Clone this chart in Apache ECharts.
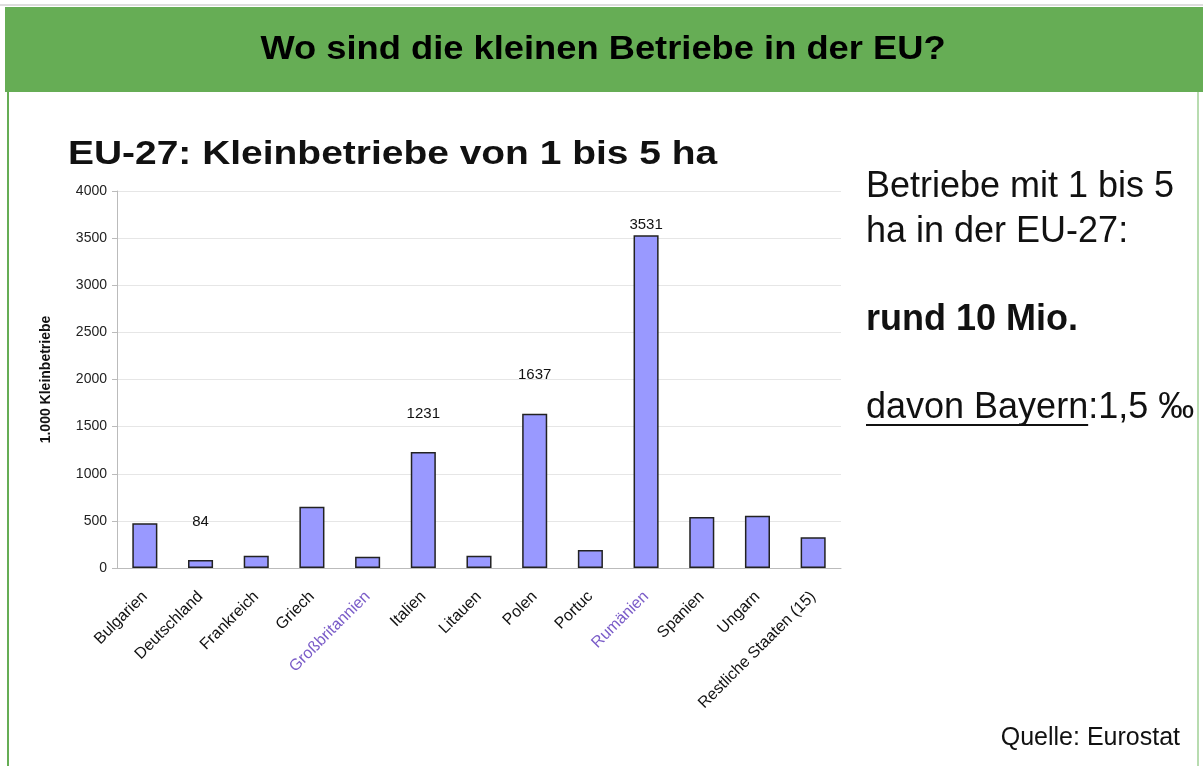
<!DOCTYPE html>
<html>
<head>
<meta charset="utf-8">
<script src="https://cdn.jsdelivr.net/npm/echarts@6/dist/echarts.min.js"></script>
<style>
  html, body { margin: 0; padding: 0; background: #fff; }
  #chart { width: 1203px; height: 766px; }
</style>
</head>
<body>
<div id="chart"></div>
<script>
// Kleinbetriebe 1-5 ha, in 1.000
const countries = ['Bulgarien', 'Deutschland', 'Frankreich', 'Griech', 'Großbritannien', 'Italien',
  'Litauen', 'Polen', 'Portuc', 'Rumänien', 'Spanien', 'Ungarn', 'Restliche Staaten (15)']
const farms = [475, 84, 130, 650, 120, 1231, 130, 1637, 190, 3531, 540, 555, 326]
const labelled = [1, 5, 7, 9] // nur diese Werte stehen im Bild
const yTicks = [0, 500, 1000, 1500, 2000, 2500, 3000, 3500, 4000]

const font = '"Liberation Sans", Arial, sans-serif'
const chart = echarts.init(document.getElementById('chart'))

// Breite von "davon Bayern" fuer die Unterstreichung
const ctx = document.createElement('canvas').getContext('2d')
ctx.font = '36px ' + font
const underlineW = ctx.measureText('davon Bayern').width

chart.setOption({
  animation: false,
  textStyle: { fontFamily: font },
  grid: { left: 117, right: 362, top: 191, bottom: 198 },
  xAxis: {
    type: 'category',
    data: countries,
    axisLine: { lineStyle: { color: '#bbb' } },
    axisTick: { length: 5, lineStyle: { color: '#bbb' } },
    axisLabel: {
      rotate: 45,
      interval: 0,
      fontSize: 16,
      margin: 26,
      color: (v) => (v === 'Großbritannien' || v === 'Rumänien') ? '#7a5cc8' : '#111'
    }
  },
  yAxis: {
    type: 'value',
    min: yTicks[0],
    max: yTicks[yTicks.length - 1],
    interval: 500,
    name: '1.000 Kleinbetriebe',
    nameLocation: 'middle',
    nameGap: 64,
    nameTextStyle: { fontSize: 14, fontWeight: 'bold', color: '#111' },
    axisLine: { show: true, lineStyle: { color: '#bbb' } },
    axisTick: { show: true, length: 5, lineStyle: { color: '#bbb' } },
    axisLabel: { fontSize: 14, color: '#222', margin: 10, formatter: (v) => String(v) },
    splitLine: { lineStyle: { color: '#e6e6e6' } }
  },
  series: [{
    type: 'bar',
    barWidth: '45%',
    data: farms.map((v, i) => ({
      value: v,
      label: {
        show: labelled.includes(i),
        position: 'top',
        distance: i === 9 ? 3 : 31,
        fontSize: 15,
        color: '#111'
      }
    })),
    itemStyle: { color: '#9999ff', borderColor: '#222', borderWidth: 1.5 }
  }],
  graphic: [
    { type: 'rect', shape: { x: 0, y: 4, width: 1203, height: 2 }, style: { fill: '#ddd' } },
    { type: 'rect', shape: { x: 5, y: 7, width: 1198, height: 85 }, style: { fill: '#66ad55' } },
    { type: 'rect', shape: { x: 7, y: 92, width: 2, height: 674 }, style: { fill: '#66ad55' } },
    { type: 'rect', shape: { x: 1197, y: 92, width: 2, height: 674 }, style: { fill: '#b8dcb0' } },
    {
      type: 'text', x: 603, y: 50, scaleX: 1.1,
      style: {
        text: 'Wo sind die kleinen Betriebe in der EU?',
        font: 'bold 33px ' + font, fill: '#000', align: 'center', verticalAlign: 'middle'
      }
    },
    {
      type: 'text', x: 68, y: 155, scaleX: 1.18,
      style: {
        text: 'EU-27: Kleinbetriebe von 1 bis 5 ha',
        font: 'bold 33px ' + font, fill: '#111', verticalAlign: 'middle'
      }
    },
    {
      type: 'text', x: 866, y: 187,
      style: { text: 'Betriebe mit 1 bis 5', font: '36px ' + font, fill: '#111', verticalAlign: 'middle' }
    },
    {
      type: 'text', x: 866, y: 232,
      style: { text: 'ha in der EU-27:', font: '36px ' + font, fill: '#111', verticalAlign: 'middle' }
    },
    {
      type: 'text', x: 866, y: 320,
      style: { text: 'rund 10 Mio.', font: 'bold 36px ' + font, fill: '#111', verticalAlign: 'middle' }
    },
    {
      type: 'text', x: 866, y: 408,
      style: { text: 'davon Bayern:1,5 ‰', font: '36px ' + font, fill: '#111', verticalAlign: 'middle' }
    },
    { type: 'rect', shape: { x: 866, y: 424, width: underlineW, height: 2 }, style: { fill: '#111' } },
    {
      type: 'text', x: 1180, y: 738,
      style: { text: 'Quelle: Eurostat', font: '25px ' + font, fill: '#111', align: 'right', verticalAlign: 'middle' }
    }
  ]
})
</script>
</body>
</html>
